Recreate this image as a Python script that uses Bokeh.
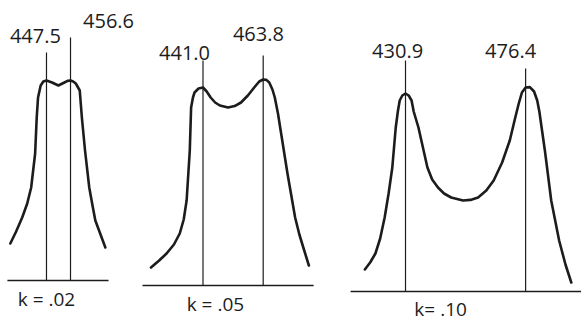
from bokeh.plotting import figure
from bokeh.layouts import row
from bokeh.models import ColumnDataSource, Range1d
from bokeh.core.properties import value
from bokeh.embed import file_html
from bokeh.resources import INLINE

# ---- data (frequency in MHz, relative response; 0 = baseline) ----
k_labels = ["k = .02", "k = .05", "k= .10"]
peak_freqs = [[447.5, 456.6], [441.0, 463.8], [430.9, 476.4]]
peak_labels = [["447.5", "456.6"], ["441.0", "463.8"], ["430.9", "476.4"]]

f1 = [433.8, 436.0, 438.3, 440.2, 441.7, 443.2, 443.8, 444.3, 445.3, 446.3, 447.5,
      449.6, 452.0, 454.3, 455.5, 456.6, 457.6, 458.6, 460.1, 460.9, 462.1, 463.7,
      465.0, 466.0, 469.8]
a1 = [0.185, 0.245, 0.315, 0.385, 0.465, 0.635, 0.815, 0.915, 0.975, 0.995, 1.0,
      0.99, 0.975, 0.99, 0.998, 1.0, 0.995, 0.985, 0.95, 0.815, 0.65, 0.465,
      0.37, 0.30, 0.165]

f2 = [421.3, 424.4, 427.2, 430.0, 432.2, 433.7, 434.8, 436.0, 436.5, 437.2, 437.8,
      439.3, 441.0, 442.4, 443.9, 445.6, 447.4, 450.5, 453.0, 455.4, 458.0, 460.4,
      462.3, 463.8, 465.0, 466.1, 467.3, 468.2, 469.4, 470.6, 473.0, 475.9, 477.5,
      479.0, 481.1]
a2 = [0.09, 0.125, 0.16, 0.205, 0.26, 0.33, 0.425, 0.675, 0.89, 0.94, 0.965,
      0.985, 0.99, 0.97, 0.94, 0.915, 0.90, 0.89, 0.897, 0.915, 0.95, 0.99,
      1.02, 1.03, 1.028, 1.015, 0.98, 0.94, 0.86, 0.76, 0.56, 0.34, 0.255,
      0.19, 0.10]

f3 = [415.5, 417.5, 419.5, 421.3, 423.0, 424.5, 425.9, 427.2, 428.0, 428.7, 429.7,
      430.9, 432.1, 433.2, 434.0, 435.8, 437.5, 439.2, 441.0, 443.2, 445.5, 448.2,
      452.7, 455.5, 458.4, 461.5, 464.3, 467.5, 470.4, 472.3, 473.8, 475.0, 476.4,
      478.0, 479.6, 480.8, 481.6, 483.7, 486.1, 489.1, 491.5, 493.7]
a3 = [0.11, 0.145, 0.19, 0.265, 0.37, 0.49, 0.62, 0.82, 0.90, 0.955, 0.98,
      0.99, 0.98, 0.955, 0.90, 0.82, 0.72, 0.62, 0.56, 0.52, 0.49, 0.47,
      0.455, 0.458, 0.47, 0.505, 0.555, 0.645, 0.755, 0.86, 0.94, 0.995, 1.02,
      1.022, 1.0, 0.955, 0.90, 0.705, 0.455, 0.255, 0.135, 0.045]

curves = [(f1, a1), (f2, a2), (f3, a3)]
marker_tops = [[1.14, 1.215], [1.125, 1.15], [1.155, 1.115]]
baselines = [(432.7, 471.0), (418.1, 482.9), (410.1, 500.0)]

# ---- layout / style ----
INK = "#1c1c1c"
FONT = value("Open Sans")
H = 322
panels = [
    dict(w=140, x=(430.08, 483.11), y=(-0.21, 1.40),
         lab_dx=[-4.2, 14.4], lab_y=[1.225, 1.30], k_x=447.5, k_y=-0.09),
    dict(w=195, x=(417.33, 491.19), y=(-0.185, 1.425),
         lab_dx=[-7.0, -1.8], lab_y=[1.165, 1.26], k_x=445.7, k_y=-0.09),
    dict(w=246, x=(404.38, 497.57), y=(-0.155, 1.455),
         lab_dx=[-3.0, -5.7], lab_y=[1.205, 1.205], k_x=444.2, k_y=-0.088),
]

figs = []
for i, pp in enumerate(panels):
    p = figure(width=pp["w"], height=H, output_backend="svg", toolbar_location=None,
               x_range=Range1d(*pp["x"]), y_range=Range1d(*pp["y"]),
               min_border=0, outline_line_color=None, background_fill_color="white",
               border_fill_color="white")
    p.xaxis.visible = False
    p.yaxis.visible = False
    p.grid.visible = False

    fx, ay = curves[i]
    p.line(fx, ay, line_color=INK, line_width=2.6, line_join="round", line_cap="round")

    b0, b1 = baselines[i]
    p.line([b0, b1], [0, 0], line_color=INK, line_width=1.3)

    src = ColumnDataSource(dict(
        x0=peak_freqs[i], y0=[0, 0], y1=marker_tops[i],
        lx=[f + d for f, d in zip(peak_freqs[i], pp["lab_dx"])],
        ly=pp["lab_y"], txt=peak_labels[i]))
    p.segment(x0="x0", y0="y0", x1="x0", y1="y1", source=src,
              line_color=INK, line_width=1.2)
    p.text(x="lx", y="ly", text="txt", source=src, text_font=FONT,
           text_font_size="20px", text_color=INK, text_align="center",
           text_baseline="middle")
    p.text(x=[pp["k_x"]], y=[pp["k_y"]], text=[k_labels[i]], text_font=FONT,
           text_font_size="19px", text_color=INK, text_align="center",
           text_baseline="middle")
    figs.append(p)

layout = row(*figs, spacing=0)
open("out.html", "w").write(file_html(layout, INLINE))
